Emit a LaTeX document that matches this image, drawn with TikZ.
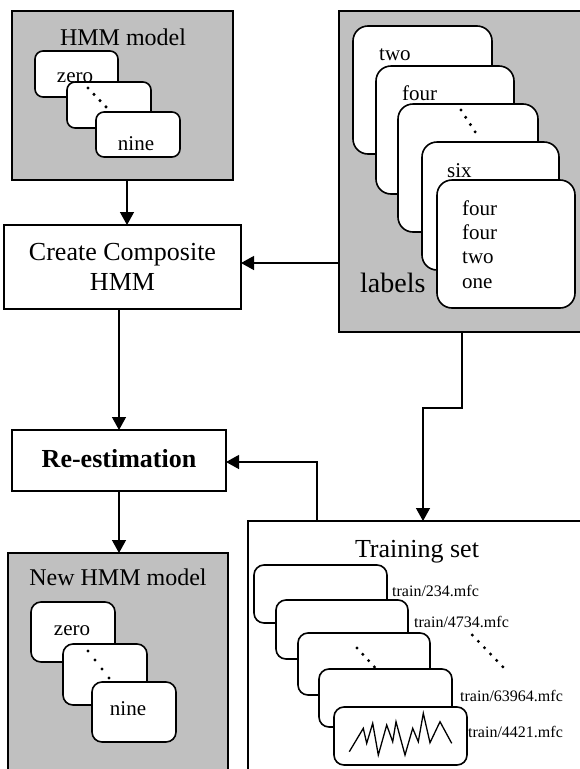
\documentclass[tikz,border=0pt]{standalone}
\usepackage{fontspec}
\setmainfont{Liberation Serif}
\usetikzlibrary{arrows.meta,calc}
\definecolor{boxgray}{RGB}{192,192,192}
\begin{document}
\begin{tikzpicture}[x=1pt,y=-1pt,
  gbox/.style={draw, line width=1.5pt, fill=boxgray, anchor=north west, inner sep=0pt, outer sep=0pt},
  wbox/.style={draw, line width=1.5pt, fill=white, anchor=north west, inner sep=0pt, outer sep=0pt},
  card/.style={draw, line width=1.6pt, fill=white, rounded corners=#1, anchor=north west, inner sep=0pt, outer sep=0pt},
  card/.default=8pt,
  arr/.style={line width=1.3pt, -{Triangle[length=13pt,width=14pt]}},
  t28/.style={font=\fontsize{28}{32}\selectfont, inner sep=0pt},
  t26/.style={font=\fontsize{26}{30}\selectfont, inner sep=0pt},
  t24/.style={font=\fontsize{24}{28}\selectfont, inner sep=0pt},
  t21/.style={font=\fontsize{21}{24.3}\selectfont, inner sep=0pt},
  t16/.style={font=\fontsize{16}{18}\selectfont, inner sep=0pt},
  dotty/.style={fill=black},
]
\clip (0,0) rectangle (580,769);
\fill[white] (0,0) rectangle (580,769);

% ---------- HMM model ----------
\node[gbox, minimum width=221, minimum height=169] (hmm) at (12,11) {};
\node[t24, anchor=base] (hmmtitle) at (123,45) {HMM model};
\node[card, minimum width=83, minimum height=46] (hzero) at (35,51) {};
\node[t21, anchor=base] (hzerot) at (75,82) {zero};
\node[card, minimum width=84, minimum height=46] (hmid) at (67,82) {};
\foreach \i in {0,1,2,3} \fill[dotty] ({88+\i*6},{88+\i*6.3}) circle (1.7);
\node[card, minimum width=84, minimum height=45] (hnine) at (96,112) {};
\node[t21, anchor=base] (hninet) at (136,150) {nine};

% ---------- Create composite ----------
\node[wbox, minimum width=237, minimum height=84] (create) at (4,225) {};
\node[t26, align=center] (createt) at (create.center) {Create Composite\\HMM};

% ---------- Re-estimation ----------
\node[wbox, minimum width=214, minimum height=61] (reest) at (12,430) {};
\node[t26, anchor=base, font=\fontsize{26}{30}\selectfont\bfseries] (reestt) at (119,467) {Re-estimation};

% ---------- New HMM model ----------
\node[gbox, minimum width=220, minimum height=240] (newhmm) at (8,553) {};
\node[t24, anchor=base] (newtitle) at (118,585) {New HMM model};
\node[card=10pt, minimum width=84, minimum height=60] (nzero) at (31,602) {};
\node[t21, anchor=base] (nzerot) at (72,635) {zero};
\node[card=10pt, minimum width=84, minimum height=61] (nmid) at (63,644) {};
\foreach \i in {0,1,2,3} \fill[dotty] ({88+\i*7},{651+\i*9}) circle (1.7);
\node[card=10pt, minimum width=84, minimum height=60] (nnine) at (92,682) {};
\node[t21, anchor=base] (nninet) at (128,715) {nine};

% ---------- labels ----------
\node[gbox, minimum width=246, minimum height=321] (labels) at (339,11) {};
\node[card=15pt, minimum width=139, minimum height=128] (l1) at (353,26) {};
\node[t21, anchor=base west] (l1t) at (379,60) {two};
\node[card=15pt, minimum width=138, minimum height=128] (l2) at (376,66) {};
\node[t21, anchor=base west] (l2t) at (402,100) {four};
\node[card=15pt, minimum width=140, minimum height=128] (l3) at (398,104) {};
\foreach \i in {0,1,2,3} \fill[dotty] ({461+\i*4.7},{110+\i*7.3}) circle (1.7);
\node[card=15pt, minimum width=137, minimum height=128] (l4) at (422,142) {};
\node[t21, anchor=base west] (l4t) at (447,177) {six};
\node[card=15pt, minimum width=138, minimum height=128] (l5) at (437,180) {};
\node[t21, anchor=base west] (l5a) at (462,215) {four};
\node[t21, anchor=base west] (l5b) at (462,239) {four};
\node[t21, anchor=base west] (l5c) at (462,263) {two};
\node[t21, anchor=base west] (l5d) at (462,288) {one};
\node[t28, anchor=base west] (labelst) at (360,292) {labels};

% ---------- Training set ----------
\node[wbox, minimum width=350, minimum height=270] (train) at (248,521) {};
\node[t26, anchor=base] (traint) at (417,557) {Training set};
\node[card=10pt, minimum width=133, minimum height=58] (c1) at (254,565) {};
\node[t16, anchor=base west] (c1t) at (392,596) {train/234.mfc};
\node[card=10pt, minimum width=132, minimum height=59] (c2) at (276,600) {};
\node[t16, anchor=base west] (c2t) at (414,627) {train/4734.mfc};
\node[card=10pt, minimum width=132, minimum height=62] (c3) at (298,633) {};
\foreach \i in {0,1,2,3} \fill[dotty] ({357+\i*5.8},{648+\i*6.3}) circle (1.7);
\foreach \i in {0,...,5} \fill[dotty] ({472.3+\i*6.1},{635+\i*6.35}) circle (1.7);
\node[card=10pt, minimum width=133, minimum height=58] (c4) at (319,669) {};
\node[t16, anchor=base west] (c4t) at (460,701) {train/63964.mfc};
\node[card=10pt, minimum width=133, minimum height=58] (c5) at (334,707) {};
\draw[line width=1.3pt] (349.3,751.7) -- (363.3,728.3) -- (366.7,743.3) -- (372.7,723.3) -- (378.3,755) -- (386.7,725) -- (392.7,741.7) -- (396,721.7) -- (405,755) -- (412.7,728.3) -- (418.3,741.7) -- (423.3,713.3) -- (430,742.7) -- (440,721.7) -- (451.7,743.3);
\node[t16, anchor=base west] (c5t) at (468,737) {train/4421.mfc};

% ---------- connectors ----------
\draw[arr] ([xshift=4.5pt]hmm.south) -- ([xshift=4.5pt]hmm.south |- create.north);
\draw[arr] ([yshift=4pt]create.east -| labels.west) -- ([yshift=4pt]create.east);
\draw[arr] (reest.north |- create.south) -- (reest.north);
\draw[arr] (reest.south) -- (reest.south |- newhmm.north);
\draw[arr] (labels.south) -- ++(0,76) -| (train.north);
\draw[arr] ([xshift=-106pt]train.north) |- ([yshift=-1.5pt]reest.east);
\end{tikzpicture}
\end{document}
